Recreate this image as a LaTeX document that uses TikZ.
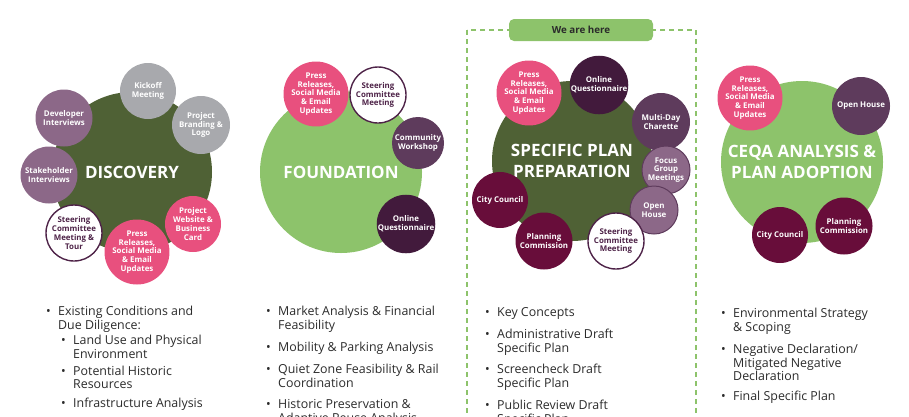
\documentclass[tikz,border=0pt]{standalone}
\usepackage{fontspec}
\setmainfont{Open Sans}
\usepackage{tikz}

\definecolor{darkgreen}{HTML}{4F6135}
\definecolor{lightgreen}{HTML}{8DC36B}
\definecolor{pressPink}{HTML}{E8507E}
\definecolor{kickGray}{HTML}{A8A9AD}
\definecolor{mauve}{HTML}{8C6888}
\definecolor{purple}{HTML}{5E3B5C}
\definecolor{plum}{HTML}{421A3C}
\definecolor{maroon}{HTML}{680D3A}
\definecolor{plumline}{HTML}{4E2348}
\definecolor{bodytext}{HTML}{2B2B2B}

\newcommand{\bul}{\makebox[12pt][l]{\textbullet}}
\newcommand{\ind}{\hspace*{12pt}}
\newcommand{\pressText}{Press\\Releases,\\Social Media\\\& Email\\Updates}

\begin{document}
\begin{tikzpicture}[
        x=1pt, y=-1pt,
        big/.style={circle, inner sep=0pt, minimum size=#1, align=center,
            text=white, font=\bfseries\fontsize{17}{20.5}\selectfont},
        big/.default=160pt,
        small/.style={circle, inner sep=0pt, minimum size=#1, align=center,
            text=white, font=\bfseries\fontsize{7.9}{8.7}\selectfont},
        small/.default=56pt,
        outline/.style={small=#1, fill=white, draw=plumline, line width=1.4pt, text=plumline},
        outline/.default=56pt,
        ring/.style={small=#1, fill=mauve, draw=purple, line width=1pt},
        ring/.default=48pt,
        item/.style={anchor=north west, align=left, inner sep=0pt, text=bodytext,
            font=\fontsize{12.4}{12.7}\selectfont},
        herebox/.style={rounded corners=5pt, fill=lightgreen, minimum width=144pt,
            minimum height=22pt, inner sep=0pt, text=bodytext,
            font=\bfseries\fontsize{9.8}{11}\selectfont},
        frame/.style={draw=lightgreen, line width=1.3pt, dash pattern=on 5pt off 4pt},
    ]

    \useasboundingbox (0,0) rectangle (909,416);
    \clip (0,0) rectangle (909,416);

    % discovery
    \node[big, fill=darkgreen] (disc) at (132,172) {DISCOVERY};
    \node[small, fill=kickGray] (discKick) at (148,91) {Kickoff\\Meeting};
    \node[small=58pt, fill=kickGray] (discBrand) at (201,125) {Project\\Branding \&\\Logo};
    \node[small=57pt, fill=mauve] (discDev) at (64,118) {Developer\\Interviews};
    \node[small=57pt, fill=mauve] (discStake) at (49,175) {Stakeholder\\Interviews};
    \node[outline] (discSteer) at (74,233) {Steering\\Committee\\Meeting \&\\Tour};
    \node[small, fill=pressPink] (discPress) at (137,252) {\pressText};
    \node[small, fill=pressPink] (discWeb) at (193,224) {Project\\Website \&\\Business\\Card};

    % foundation
    \node[big=162pt, fill=lightgreen] (found) at (341,172) {FOUNDATION};
    \node[small=55pt, fill=pressPink] (foundPress) at (316,94) {\pressText};
    \node[outline] (foundSteer) at (378,95) {Steering\\Committee\\Meeting};
    \node[small=52pt, fill=purple] (foundWork) at (418,143) {Community\\Workshop};
    \node[small, fill=plum] (foundOnline) at (406,224) {Online\\Questionnaire};

    % specific plan
    \draw[frame] (467,30) rectangle (696,440);
    \node[herebox] (here) at (581,30) {We are here};

    \node[big=160pt, fill=darkgreen] (spec) at (572,161) {SPECIFIC PLAN\\PREPARATION};
    \node[small, fill=pressPink] (specPress) at (529,93) {\pressText};
    \node[small, fill=plum] (specOnline) at (599,85) {Online\\Questionnaire};
    \node[small=58pt, fill=purple] (specCharette) at (661,122) {Multi-Day\\Charette};
    \node[ring] (specFocus) at (666,170) {Focus\\Group\\Meetings};
    \node[ring] (specOpen) at (654,210) {Open\\House};
    \node[outline] (specSteer) at (616,241) {Steering\\Committee\\Meeting};
    \node[small=57pt, fill=maroon] (specPlan) at (544,241) {Planning\\Commission};
    \node[small, fill=maroon] (specCity) at (500,200) {City Council};

    % ceqa
    \node[big=162pt, fill=lightgreen] (ceqa) at (802,162) {CEQA ANALYSIS \&\\PLAN ADOPTION};
    \node[small, fill=pressPink] (ceqaPress) at (750,98) {\pressText};
    \node[small=58pt, fill=purple] (ceqaOpen) at (861,106) {Open House};
    \node[small, fill=maroon] (ceqaCity) at (780,235) {City Council};
    \node[small=57pt, fill=maroon] (ceqaPlan) at (844,226) {Planning\\Commission};

    % task lists
    \node[item] (discA) at (46,306) {\strut\bul Existing Conditions and\\\ind Due Diligence:};
    \node[item] (discB) at (61,335) {\strut\bul Land Use and Physical\\\ind Environment};
    \node[item] (discC) at (61,366) {\strut\bul Potential Historic\\\ind Resources};
    \node[item] (discD) at (61,398) {\strut\bul Infrastructure Analysis};

    \node[item] (foundA) at (266,306) {\strut\bul Market Analysis \& Financial\\\ind Feasibility};
    \node[item] (foundB) at (266,341.5) {\strut\bul Mobility \& Parking Analysis};
    \node[item] (foundC) at (266,364) {\strut\bul Quiet Zone Feasibility \& Rail\\\ind Coordination};
    \node[item] (foundD) at (266,399) {\strut\bul Historic Preservation \&\\\ind Adaptive Reuse Analysis};

    \node[item] (specA) at (485,307.5) {\strut\bul Key Concepts};
    \node[item] (specB) at (485,329) {\strut\bul Administrative Draft\\\ind Specific Plan};
    \node[item] (specC) at (485,364) {\strut\bul Screencheck Draft\\\ind Specific Plan};
    \node[item] (specD) at (485,400) {\strut\bul Public Review Draft\\\ind Specific Plan};

    \node[item] (ceqaA) at (721,308) {\strut\bul Environmental Strategy\\\ind \& Scoping};
    \node[item] (ceqaB) at (721,343.5) {\strut\bul Negative Declaration/\\\ind Mitigated Negative\\\ind Declaration};
    \node[item] (ceqaC) at (721,391) {\strut\bul Final Specific Plan};

\end{tikzpicture}
\end{document}
